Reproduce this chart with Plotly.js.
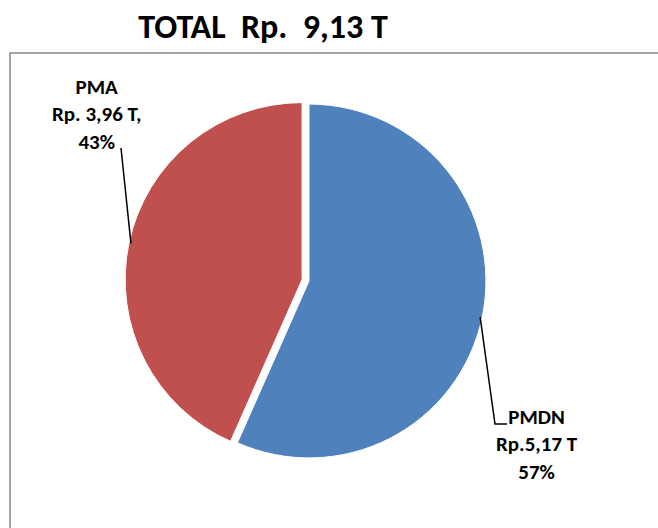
<!DOCTYPE html>
<html>
<head>
<meta charset="utf-8">
<script src="https://cdn.plot.ly/plotly-3.0.1.min.js"></script>
<style>html,body{margin:0;padding:0;background:#fff;}#chart{width:658px;height:528px;}</style>
</head>
<body>
<div id="chart"></div>
<script>
// ---- data ----
var categories = ['PMDN', 'PMA'];
var amounts = [5.17, 3.96];            // trillion Rupiah
var amountLabels = ['Rp.5,17 T', 'Rp. 3,96 T,'];
var totalLabel = 'TOTAL\u00a0\u00a0Rp.\u00a0\u00a09,13 T';
var colors = ['#4F81BD', '#C0504D'];
var pulls = [0, 0.04];

// ---- geometry ----
var W = 658, H = 528;
var cx = 309, cy = 281, box = 368;
var maxPull = Math.max.apply(null, pulls);
var R = box / (2 + 2 * maxPull);
var FONT = 'Carlito, Lato, sans-serif';

var total = amounts.reduce(function (a, b) { return a + b; }, 0);
var pcts = amounts.map(function (v) { return Math.round(v / total * 100) + '%'; });

// slice mid angles (clockwise from 12 o'clock)
var mids = [], acc = 0;
amounts.forEach(function (v) { var f = v / total; mids.push((acc + f / 2) * 2 * Math.PI); acc += f; });
function edgePoint(i, rr) {
  var a = mids[i];
  var pc = pulls[i] * R;
  var x = cx + (pc + rr) * Math.sin(a);
  var y = cy - (pc + rr) * Math.cos(a);
  return [x, y];
}
function px(x) { return x / W; }
function py(y) { return 1 - y / H; }

var trace = {
  type: 'pie',
  labels: categories,
  values: amounts,
  sort: false,
  direction: 'clockwise',
  rotation: 0,
  pull: pulls,
  textinfo: 'none',
  hoverinfo: 'label+value+percent',
  marker: { colors: colors, line: { color: '#ffffff', width: 1 } },
  domain: { x: [px(cx - box / 2), px(cx + box / 2)], y: [py(cy + box / 2), py(cy - box / 2)] },
  showlegend: false
};

// label positions
var labelPos = [[537, 444], [96, 115]];
var annotations = categories.map(function (c, i) {
  return {
    xref: 'paper', yref: 'paper',
    x: px(labelPos[i][0]), y: py(labelPos[i][1]),
    xanchor: 'center', yanchor: 'middle',
    showarrow: false, align: 'center',
    text: '<b>' + c + '<br>' + amountLabels[i] + '<br>' + pcts[i] + '</b>',
    font: { family: FONT, size: 21, color: '#000' }
  };
});

// leader lines
var pB = edgePoint(0, R - 2);
var pA = edgePoint(1, R - 2);
var shapes = [
  { type: 'rect', xref: 'paper', yref: 'paper', x0: px(10), x1: 1.2, y0: -0.2, y1: py(53),
    line: { color: '#868686', width: 1.5 }, fillcolor: 'rgba(0,0,0,0)', layer: 'below' },
  { type: 'path', xref: 'paper', yref: 'paper',
    path: 'M' + px(pB[0]) + ',' + py(pB[1]) + ' L' + px(495) + ',' + py(424) + ' L' + px(507) + ',' + py(424),
    line: { color: '#000', width: 1.5 } },
  { type: 'path', xref: 'paper', yref: 'paper',
    path: 'M' + px(pA[0]) + ',' + py(pA[1]) + ' L' + px(121) + ',' + py(148),
    line: { color: '#000', width: 1.5 } }
];

var layout = {
  width: W, height: H,
  margin: { l: 0, r: 0, t: 0, b: 0 },
  paper_bgcolor: '#fff',
  title: {
    text: '<b>' + totalLabel + '</b>',
    x: 263 / W, xanchor: 'center', xref: 'paper',
    y: 1 - 26 / H, yanchor: 'middle', yref: 'container',
    font: { family: FONT, size: 34, color: '#000' }
  },
  annotations: annotations,
  shapes: shapes
};

Plotly.newPlot('chart', [trace], layout, { displayModeBar: false, staticPlot: true });
</script>
</body>
</html>
